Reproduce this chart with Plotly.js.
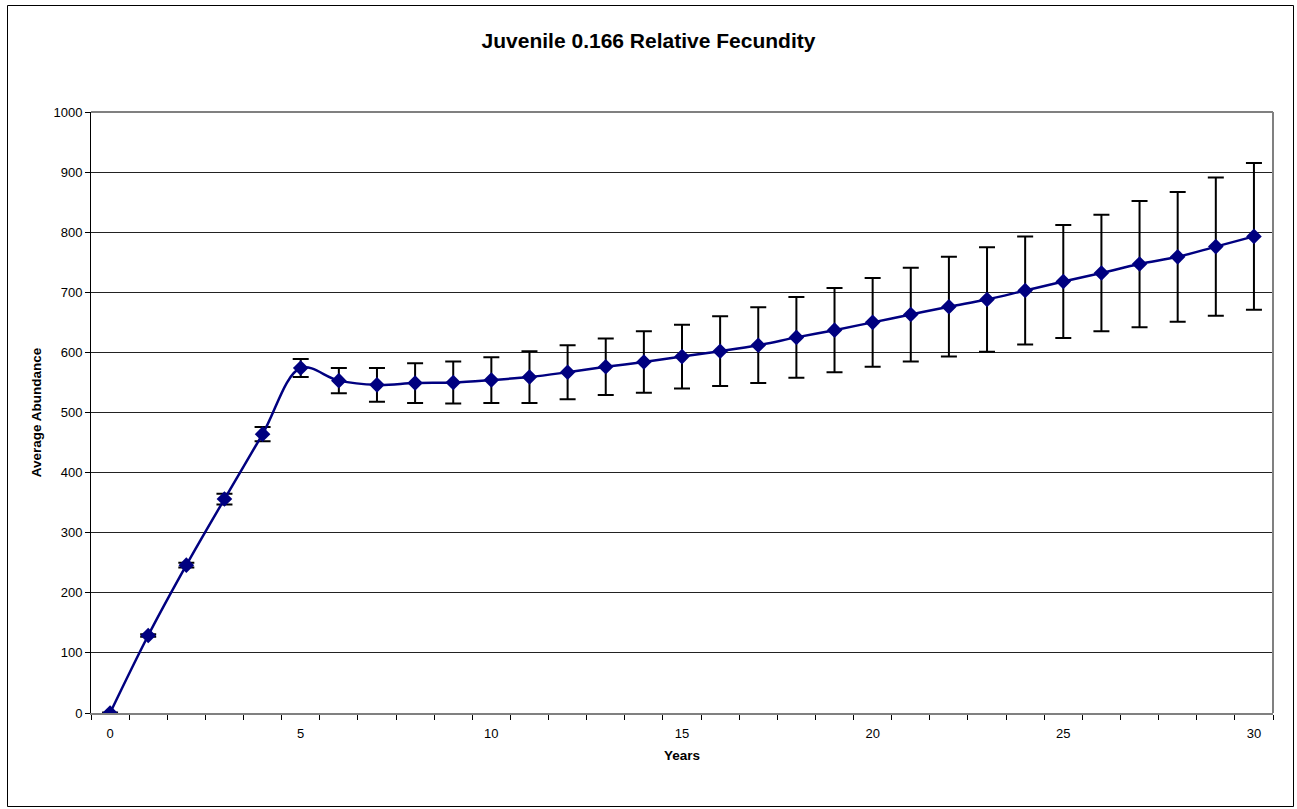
<!DOCTYPE html>
<html>
<head>
<meta charset="utf-8">
<script src="https://cdn.plot.ly/plotly-3.0.1.min.js"></script>
<style>
html,body{margin:0;padding:0;background:#fff;}
#chart{width:1297px;height:809px;}
</style>
</head>
<body>
<div id="chart"></div>
<script>
const years = [0,1,2,3,4,5,6,7,8,9,10,11,12,13,14,15,16,17,18,19,20,21,22,23,24,25,26,27,28,29,30];
const abundance = [0,129,246,356,464,574,553,546,549,550,554,559,567,576,584,593,602,612,625,637,650,663,676,688,703,718,732,747,759,776,793];
const errors = [1,2,4,9,12,15,21,28,33,35,38,43,45,47,51,53,58,63,67,70,74,78,83,87,90,94,97,105,108,115,122];
const xTickVals = [0,5,10,15,20,25,30];
const xTickText = ['0','5','10','15','20','25','30'];
const yTickVals = [0,100,200,300,400,500,600,700,800,900,1000];

const L = 91, R = 1273, T = 112, B = 713, W = 1297, H = 809;
const px = v => (v - L) / (R - L);
const py = v => (B - v) / (B - T);

const trace = {
  x: years,
  y: abundance,
  type: 'scatter',
  mode: 'lines+markers',
  line: {color: '#000080', width: 2.5, shape: 'spline', smoothing: 1},
  marker: {symbol: 'diamond', size: 12, color: '#000080', line: {width: 0}},
  error_y: {type: 'data', array: errors, visible: true, color: '#000000', thickness: 2, width: 8},
  hoverinfo: 'x+y',
  showlegend: false
};

const layout = {
  width: W, height: H,
  margin: {l: L, r: W - R, t: T, b: H - B},
  paper_bgcolor: '#ffffff',
  plot_bgcolor: '#ffffff',
  font: {family: 'Liberation Sans, Arial, sans-serif', size: 13, color: '#000'},
  title: {text: '<b>Juvenile 0.166 Relative Fecundity</b>', font: {size: 21, family: 'Liberation Sans, Arial, sans-serif', color: '#000'}, x: 0.5, xanchor: 'center', y: 1 - 41/H, yanchor: 'middle'},
  xaxis: {
    range: [-0.5, 30.5],
    tickmode: 'array', tickvals: xTickVals, ticktext: xTickText,
    ticks: 'outside', ticklen: 7, tickcolor: 'rgba(0,0,0,0)', showgrid: false, zeroline: false,
    showline: true, linecolor: '#808080', linewidth: 2,
    tickfont: {size: 13},
    minor: {tick0: -0.5, dtick: 1, ticks: 'outside', ticklen: 5, tickcolor: '#000', tickwidth: 1, showgrid: false},
    title: {text: '<b>Years</b>', font: {size: 13.5}, standoff: 11}
  },
  yaxis: {
    range: [0, 1000],
    tickmode: 'array', tickvals: yTickVals,
    ticks: 'outside', ticklen: 5, tickcolor: '#000', tickwidth: 1,
    showgrid: true, gridcolor: '#222', gridwidth: 1,
    zeroline: false,
    showline: true, linecolor: '#000', linewidth: 1,
    tickfont: {size: 13},
    title: {text: '<b>Average Abundance</b>', font: {size: 13.5}, standoff: 8}
  },
  shapes: [
    {type: 'line', xref: 'paper', yref: 'paper', x0: 0, x1: 1, y0: 1, y1: 1, line: {color: '#808080', width: 2}},
    {type: 'line', xref: 'paper', yref: 'paper', x0: 1, x1: 1, y0: 0, y1: 1, line: {color: '#808080', width: 2}},
    {type: 'rect', xref: 'paper', yref: 'paper', x0: px(7.5), x1: px(1293.5), y0: py(806.5), y1: py(5.5), line: {color: '#000', width: 1}, fillcolor: 'rgba(0,0,0,0)', layer: 'below'}
  ]
};

Plotly.newPlot('chart', [trace], layout, {displayModeBar: false, staticPlot: true});
</script>
</body>
</html>
